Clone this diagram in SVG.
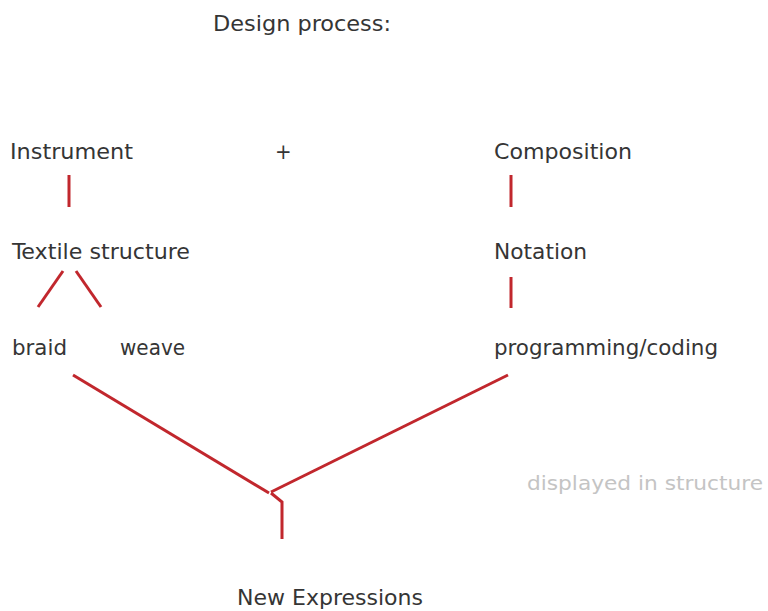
<svg xmlns="http://www.w3.org/2000/svg" width="768" height="611" viewBox="0 0 768 611">
  <style>
    .lbl { font-family: "DejaVu Sans Condensed", "Liberation Sans", sans-serif; font-size: 22px; fill: #353535; }
    .note { font-family: "DejaVu Sans Condensed", "Liberation Sans", sans-serif; font-size: 19px; fill: #c4c4c4; }
    .link { stroke: #c1272d; stroke-width: 3; fill: none; stroke-linecap: butt; stroke-linejoin: miter; }
  </style>
  <rect width="768" height="611" fill="#ffffff"/>

  <g id="title"><text class="lbl" x="213" y="31" textLength="178" lengthAdjust="spacingAndGlyphs">Design process:</text></g>

  <g id="instrument"><text class="lbl" x="10" y="159" textLength="123" lengthAdjust="spacingAndGlyphs">Instrument</text></g>
  <g id="plus"><text class="lbl" x="275" y="159">+</text></g>
  <g id="composition"><text class="lbl" x="494" y="159" textLength="138" lengthAdjust="spacingAndGlyphs">Composition</text></g>

  <g id="textile-structure"><text class="lbl" x="12" y="259" textLength="178" lengthAdjust="spacingAndGlyphs">Textile structure</text></g>
  <g id="notation"><text class="lbl" x="494" y="259" textLength="93" lengthAdjust="spacingAndGlyphs">Notation</text></g>

  <g id="braid"><text class="lbl" x="12" y="355" textLength="55" lengthAdjust="spacingAndGlyphs">braid</text></g>
  <g id="weave"><text class="lbl" x="120" y="355" textLength="65" lengthAdjust="spacingAndGlyphs">weave</text></g>
  <g id="programming"><text class="lbl" x="494" y="355" textLength="224" lengthAdjust="spacingAndGlyphs">programming/coding</text></g>

  <g id="displayed"><text class="note" x="527" y="490" textLength="236" lengthAdjust="spacingAndGlyphs">displayed in structure</text></g>

  <g id="new-expressions"><text class="lbl" x="237" y="605" textLength="186" lengthAdjust="spacingAndGlyphs">New Expressions</text></g>

  <g id="connectors">
    <line class="link" x1="69" y1="175" x2="69" y2="207"/>
    <line class="link" x1="511" y1="175" x2="511" y2="207"/>
    <line class="link" x1="511" y1="277" x2="511" y2="308"/>
    <line class="link" x1="63" y1="271" x2="38" y2="307"/>
    <line class="link" x1="76" y1="271" x2="101" y2="307"/>
    <line class="link" x1="73" y1="375" x2="269" y2="493"/>
    <line class="link" x1="508" y1="375" x2="271" y2="492"/>
    <polyline class="link" points="271,493 282,502 282,539"/>
  </g>
</svg>
